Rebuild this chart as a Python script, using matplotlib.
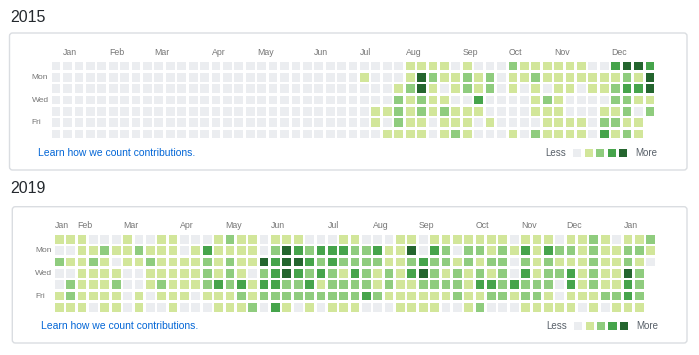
import matplotlib.pyplot as plt
from matplotlib.patches import Rectangle, FancyBboxPatch

plt.rcParams['font.family'] = ['Liberation Sans', 'DejaVu Sans']

# contribution levels 0..4, one string per weekday row (Sun..Sat), one char per week, '-' = no day
palette = ['#ebedf0', '#d2e69a', '#8fcc7e', '#46a44b', '#24652e']
day_names = ['Mon', 'Wed', 'Fri']
day_rows = [1, 3, 5]

months_2015 = ['Jan', 'Feb', 'Mar', 'Apr', 'May', 'Jun', 'Jul', 'Aug', 'Sep', 'Oct', 'Nov', 'Dec']
month_weeks_2015 = [1, 5, 9, 14, 18, 23, 27, 31, 36, 40, 44, 49]
grid_2015 = [
    '0' * 26 + '00000 11110 10002 11111 10034 43',
    '0' * 26 + '01000 14211 21201 12111 11112 14',
    '0' * 26 + '00001 24101 21201 01011 01123 34',
    '0' * 26 + '00002 12110 03000 01210 00022 11',
    '0' * 26 + '00112 12121 11000 01110 00112 02',
    '0' * 26 + '00102 11011 10100 00111 10221 1-',
    '0' * 26 + '00011 11012 10001 02111 10312 1-',
]

months_2019 = ['Jan', 'Feb', 'Mar', 'Apr', 'May', 'Jun', 'Jul', 'Aug', 'Sep', 'Oct', 'Nov', 'Dec', 'Jan']
month_weeks_2019 = [0, 2, 6, 11, 15, 19, 24, 28, 32, 37, 41, 45, 50]
grid_2019 = [
    '11100 01001 10001 21101 11000 11000 11011 11111 01110 11210 112',
    '00112 11211 10131 11102 43233 32231 14032 02212 13132 21211 221',
    '21121 01121 11121 21143 44323 22221 12322 12122 02121 11211 210',
    '00111 10011 11121 21023 43232 13212 13421 21212 03122 31211 42-',
    '02111 20012 11123 23133 22312 22212 11222 21332 32220 31211 32-',
    '12111 10101 11011 12122 22222 22321 11111 21122 12210 11122 32-',
    '11101 10100 10001 11203 10101 11000 11110 01200 01111 10101 11-',
]

W, H = 699, 355
fig = plt.figure(figsize=(W / 100, H / 100), dpi=100)
bg = fig.add_axes([0, 0, 1, 1], zorder=0)
bg.set_xlim(0, W)
bg.set_ylim(H, 0)
bg.axis('off')


def draw_panel(title, grid, months, month_weeks, title_y, box, origin, pitch):
    bx0, by0, bx1, by1 = box
    bg.add_patch(FancyBboxPatch((bx0, by0), bx1 - bx0, by1 - by0,
                                boxstyle='round,pad=0,rounding_size=3',
                                fc='white', ec='#dadde1', lw=1))
    bg.text(10, title_y, title, fontsize=11.5, color='#24292e', va='baseline')

    x0, y0 = origin
    px, py = pitch
    ax = fig.add_axes([x0 / W, 1 - (y0 + 7 * py) / H, 53 * px / W, 7 * py / H], zorder=1)
    ax.set_xlim(0, 53)
    ax.set_ylim(7, 0)
    ax.axis('off')

    for r, row in enumerate(grid):
        for c, ch in enumerate(row.replace(' ', '')):
            if ch == '-':
                continue
            ax.add_patch(Rectangle((c, r), 0.77, 0.77, fc=palette[int(ch)], lw=0))

    for name, wk in zip(months, month_weeks):
        ax.text(wk, -0.85, name, fontsize=6.3, color='#767676', va='center', ha='left')
    for name, r in zip(day_names, day_rows):
        ax.text(-1.75, r + 0.39, name, fontsize=6.0, color='#767676', va='center', ha='left')

    ax.text(-1.2, 8.07, 'Learn how we count contributions.', fontsize=7.45,
            color='#0366d6', va='center', ha='left')
    ax.text(45.0, 8.04, 'Less', fontsize=7, color='#586069', va='center', ha='right')
    for i, col in enumerate(palette):
        ax.add_patch(Rectangle((45.67 + i, 7.68), 0.72, 0.72, fc=col, lw=0, clip_on=False))
    ax.text(51.1, 8.04, 'More', fontsize=7, color='#586069', va='center', ha='left')


draw_panel('2015', grid_2015, months_2015, month_weeks_2015, 21.7,
           (9.5, 33, 687, 170), (51.7, 61.7), (11.42, 11.33))
draw_panel('2019', grid_2019, months_2019, month_weeks_2019, 193.3,
           (12.3, 206.7, 687, 343), (55, 235), (11.37, 11.33))

fig.savefig('out.png', dpi=100, facecolor='white')
